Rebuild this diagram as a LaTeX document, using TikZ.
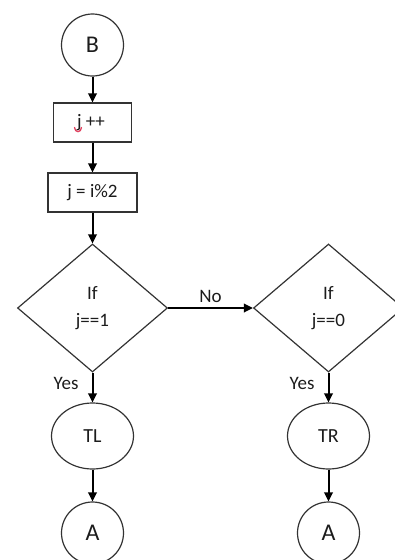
\documentclass[tikz,border=0pt]{standalone}
\usepackage{fontspec}
\setmainfont{Carlito}
\usetikzlibrary{shapes.geometric,arrows.meta}

\definecolor{ink}{HTML}{1C1C1C}
\definecolor{edge}{HTML}{333333}
\definecolor{squiggle}{HTML}{E0405E}

\tikzset{
  shapeline/.style={draw=edge, line width=1.2pt, text=ink},
  conn/.style={circle, shapeline, minimum size=62pt, inner sep=0pt,
               font=\fontsize{24}{24}\selectfont},
  procbox/.style={rectangle, shapeline, inner sep=0pt,
                  font=\fontsize{19}{19}\selectfont},
  decide/.style={diamond, shapeline, aspect=1.17, minimum width=150pt,
                 minimum height=128pt, inner sep=0pt, align=center,
                 font=\fontsize{19}{27}\selectfont},
  oval/.style={ellipse, shapeline, minimum width=82pt, minimum height=66pt,
               inner sep=0pt, font=\fontsize{20}{20}\selectfont},
  flow/.style={draw=black, line width=2pt, -{Triangle[length=9pt,width=8.5pt]}},
  tag/.style={text=ink, font=\fontsize{19}{19}\selectfont, inner sep=0pt},
}

\begin{document}
\begin{tikzpicture}[x=1pt, y=-1pt]
  \useasboundingbox (0,0) rectangle (395,560);
  \clip (0,0) rectangle (395,560);

  % left column
  \node[conn] (B) at (92.5,45) {B};
  \node[procbox, minimum width=78pt, minimum height=39pt] (inc) at (92.5,122.5)
       {\hspace*{-3pt}j ++};
  \node[procbox, minimum width=89pt, minimum height=39pt] (mod) at (92.5,192.5) {j = i\%2};
  \node[decide] (d1) at (92.5,308) {If\\j==1};
  \node[oval] (TL) at (92.5,436) {TL};
  \node[conn] (A1) at (92.5,533) {A};

  % right column
  \node[decide] (d0) at (328.5,308) {If\\j==0};
  \node[oval] (TR) at (328.5,436) {TR};
  \node[conn] (A2) at (328.5,533) {A};

  % spelling mark under the j
  \draw[squiggle, line width=1.3pt, line cap=round]
    (74.5,127.5) .. controls (75,133) and (81,133) .. (81.5,127.5);

  % connectors
  \draw[flow] (B) -- (inc);
  \draw[flow] (inc) -- (mod);
  \draw[flow] (mod) -- (d1);
  \draw[flow] (d1) -- node[tag, above=4pt] {No} (d0);
  \draw[flow] (d1) -- node[tag, pos=0.38, left=13pt] {Yes} (TL);
  \draw[flow] (d0) -- node[tag, pos=0.38, left=13pt] {Yes} (TR);
  \draw[flow] (TL) -- (A1);
  \draw[flow] (TR) -- (A2);
\end{tikzpicture}
\end{document}
